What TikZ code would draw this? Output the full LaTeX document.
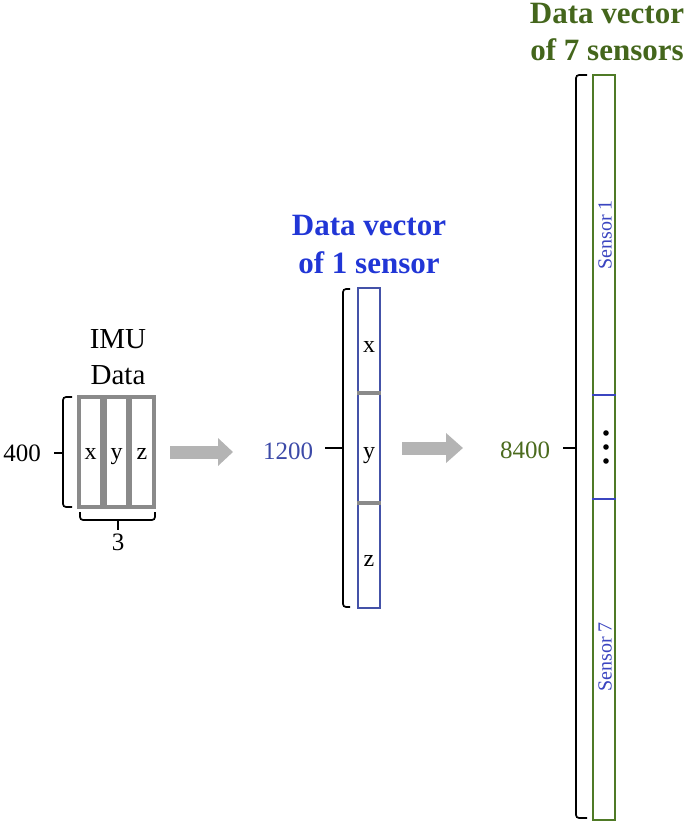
\documentclass[tikz,border=0pt]{standalone}
\usepackage{fontspec}
\setmainfont{Liberation Serif}
\usetikzlibrary{arrows.meta}
\definecolor{boxgray}{HTML}{8A8A8A}
\definecolor{arrgray}{HTML}{B4B4B4}
\definecolor{titleblue}{HTML}{2136D6}
\definecolor{numblue}{HTML}{3C4AA8}
\definecolor{midblue}{HTML}{4452A8}
\definecolor{senblue}{HTML}{3B45C0}
\definecolor{titlegreen}{HTML}{44661C}
\definecolor{numgreen}{HTML}{4B6B1E}
\definecolor{boxgreen}{HTML}{4F7A26}
\begin{document}
\begin{tikzpicture}[x=1pt,y=-1pt,
  lbl/.style={anchor=base,inner sep=0pt,font=\fontsize{24}{28}\selectfont},
  num/.style={anchor=base,inner sep=0pt,font=\fontsize{25}{29}\selectfont},
  ttl/.style={anchor=base,inner sep=0pt,font=\fontsize{29}{33}\selectfont},
  bttl/.style={anchor=base,inner sep=0pt,font=\fontsize{31}{35}\selectfont\bfseries},
  imubox/.style={draw=boxgray,line width=3.2pt,minimum height=110pt,inner sep=0pt},
  brace/.style={draw=black,line width=1.7pt,rounded corners=3pt},
  senlbl/.style={rotate=90,inner sep=0pt,text=senblue,font=\fontsize{20}{23}\selectfont},
]
\useasboundingbox (0,0) rectangle (685,822);

% ---------- IMU data ----------
\node[ttl] (imu) at (118,348) {IMU};
\node[ttl] (data) at (118,384) {Data};
\node[imubox,minimum width=23pt] (bx) at (90.5,452) {};
\node[imubox,minimum width=23pt] (by) at (116.5,452) {};
\node[imubox,minimum width=24pt] (bz) at (142,452) {};
\node[lbl] (lx) at (90.5,459) {x};
\node[lbl] (ly) at (116.5,459) {y};
\node[lbl] (lz) at (142,459) {z};
\coordinate (lbtop) at (72,397);
\coordinate (lbbot) at (72,507);
\draw[brace] (lbtop) -- (63,397) -- (63,507) -- (lbbot);
\coordinate (lbtip) at (54,453);
\draw[line width=1.7pt] (63,453) -- (lbtip);
\node[num] (n400) at (22,461) {400};
\draw[brace] (80,512) -- (80,520) -- (155,520) -- (155,512);
\coordinate (bbtip) at (118,530);
\draw[line width=1.7pt] (118,520) -- (bbtip);
\node[num] (n3) at (118,550) {3};

% ---------- arrow 1 ----------
\coordinate (a1s) at (170,452);
\coordinate (a1e) at (233,452);
\draw[arrgray,line width=13pt,-{Triangle[length=15pt,width=27pt]}] (a1s) -- (a1e);

% ---------- data vector of 1 sensor ----------
\node[bttl,text=titleblue] (t1a) at (369,235) {Data vector};
\node[bttl,text=titleblue] (t1b) at (369,273) {of 1 sensor};
\node[draw=midblue,line width=2.8pt,minimum width=22pt,minimum height=320pt,inner sep=0pt] (mb) at (369,448) {};
\draw[boxgray,line width=3.5pt] (mb.west |- 0,393) -- (mb.east |- 0,393);
\draw[boxgray,line width=3.5pt] (mb.west |- 0,503) -- (mb.east |- 0,503);
\node[lbl] (mx) at (369,352) {x};
\node[lbl] (my) at (369,458) {y};
\node[lbl] (mz) at (369,566) {z};
\draw[brace] (350,289) -- (343,289) -- (343,607) -- (350,607);
\coordinate (mbtip) at (325,448);
\draw[line width=1.7pt] (343,448) -- (mbtip);
\node[num,text=numblue] (n1200) at (288,459) {1200};

% ---------- arrow 2 ----------
\coordinate (a2s) at (402,448);
\coordinate (a2e) at (463,448);
\draw[arrgray,line width=13pt,-{Triangle[length=17pt,width=29pt]}] (a2s) -- (a2e);

% ---------- data vector of 7 sensors ----------
\node[bttl,text=titlegreen] (t7a) at (607,23) {Data vector};
\node[bttl,text=titlegreen] (t7b) at (607,60) {of 7 sensors};
\node[draw=boxgreen,line width=1.5pt,minimum width=22pt,minimum height=745pt,inner sep=0pt] (rb) at (604,447.5) {};
\draw[senblue,line width=1.6pt] (rb.west |- 0,395) -- (rb.east |- 0,395);
\draw[senblue,line width=1.6pt] (rb.west |- 0,499) -- (rb.east |- 0,499);
\fill (606,433) circle (2.8pt);
\fill (606,447) circle (2.8pt);
\fill (606,461) circle (2.8pt);
\node[senlbl] (s1) at (605,235) {Sensor 1};
\node[senlbl] (s7) at (605,657) {Sensor 7};
\draw[brace] (587,75) -- (576,75) -- (576,818) -- (587,818);
\coordinate (rbtip) at (563,448);
\draw[line width=1.7pt] (576,448) -- (rbtip);
\node[num,text=numgreen] (n8400) at (525,458) {8400};
\end{tikzpicture}
\end{document}
